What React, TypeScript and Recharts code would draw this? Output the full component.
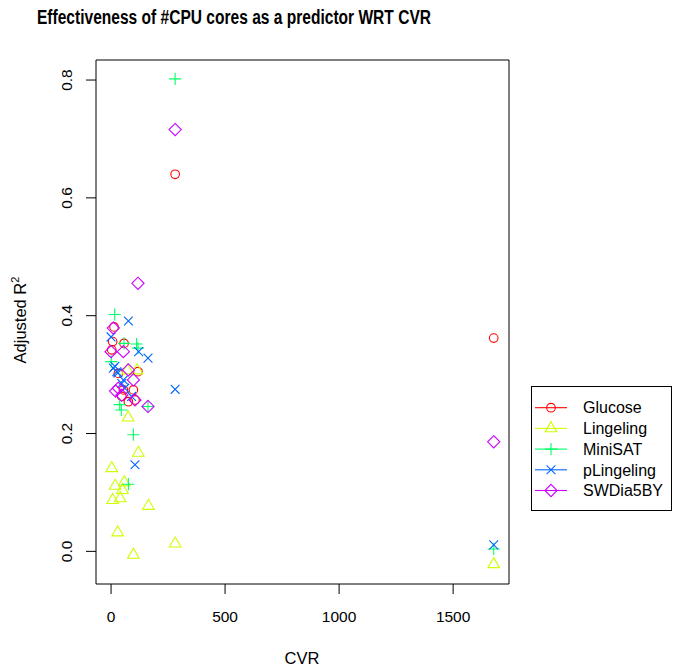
import React from 'react';
import { ScatterChart, Scatter, XAxis, YAxis, ReferenceArea, Legend } from 'recharts';

// ---- data ----
const glucoseCvr = [3, 7, 13, 32, 47, 54, 57, 76, 98, 105, 118, 281, 1678];
const glucoseR2 = [0.342, 0.356, 0.381, 0.302, 0.263, 0.274, 0.353, 0.254, 0.274, 0.257, 0.305, 0.640, 0.362];

const lingelingCvr = [3, 7, 18, 29, 40, 50, 58, 72, 75, 98, 114, 120, 164, 281, 1678];
const lingelingR2 = [0.141, 0.087, 0.111, 0.032, 0.090, 0.104, 0.117, 0.307, 0.227, -0.006, 0.307, 0.167, 0.077, 0.013, -0.022];

const minisatCvr = [1, 16, 38, 45, 57, 76, 98, 112, 118, 162, 281, 1678];
const minisatR2 = [0.322, 0.402, 0.249, 0.240, 0.353, 0.114, 0.198, 0.352, 0.345, 0.246, 0.802, 0.004];

const plingelingCvr = [0, 10, 17, 25, 30, 47, 54, 60, 76, 90, 105, 121, 162, 281, 1678];
const plingelingR2 = [0.364, 0.311, 0.314, 0.305, 0.303, 0.285, 0.291, 0.277, 0.391, 0.263, 0.147, 0.339, 0.328, 0.275, 0.011];

const swdiaCvr = [0, 10, 20, 32, 47, 54, 76, 98, 105, 118, 162, 281, 1678];
const swdiaR2 = [0.339, 0.379, 0.272, 0.277, 0.265, 0.339, 0.308, 0.291, 0.257, 0.455, 0.246, 0.716, 0.186];

const seriesNames = ['Glucose', 'Lingeling', 'MiniSAT', 'pLingeling', 'SWDia5BY'];
const seriesColors = ['#FF0000', '#CCFF00', '#00FF66', '#0066FF', '#CC00FF'];

const xTicks = [0, 500, 1000, 1500];
const yTicks = [0.0, 0.2, 0.4, 0.6, 0.8];
const xDomain: [number, number] = [-66, 1745];
const yDomain: [number, number] = [-0.0554, 0.834];

const toPoints = (xs: number[], ys: number[]) => xs.map((x, i) => ({ x, y: ys[i] }));

const FONT = '"Liberation Sans", Arial, Helvetica, sans-serif';

// ---- R-like point symbols ----
type ShapeKind = 'circle' | 'triangle' | 'plus' | 'cross' | 'diamond';
const shapeKinds: ShapeKind[] = ['circle', 'triangle', 'plus', 'cross', 'diamond'];

function Symbol({ kind, cx, cy, color }: { kind: ShapeKind; cx: number; cy: number; color: string }) {
  const common = { fill: 'none', stroke: color, strokeWidth: 1.1 };
  if (cx == null || cy == null || isNaN(cx) || isNaN(cy)) return null;
  switch (kind) {
    case 'circle':
      return <circle cx={cx} cy={cy} r={4.3} {...common} />;
    case 'triangle': {
      const t0 = 6.7, xc = 5.8, yc = 3.35;
      return <polygon points={`${cx},${cy - t0} ${cx + xc},${cy + yc} ${cx - xc},${cy + yc}`} {...common} />;
    }
    case 'plus': {
      const a = 6.1;
      return <path d={`M${cx - a},${cy}H${cx + a}M${cx},${cy - a}V${cy + a}`} {...common} />;
    }
    case 'cross': {
      const a = 4.4;
      return <path d={`M${cx - a},${cy - a}L${cx + a},${cy + a}M${cx - a},${cy + a}L${cx + a},${cy - a}`} {...common} />;
    }
    case 'diamond': {
      const a = 6.1;
      return <polygon points={`${cx},${cy - a} ${cx + a},${cy} ${cx},${cy + a} ${cx - a},${cy}`} {...common} />;
    }
  }
  return null;
}

const seriesData = [
  toPoints(glucoseCvr, glucoseR2),
  toPoints(lingelingCvr, lingelingR2),
  toPoints(minisatCvr, minisatR2),
  toPoints(plingelingCvr, plingelingR2),
  toPoints(swdiaCvr, swdiaR2),
];

function LegendBox() {
  const rowY0 = 21.7;
  const rowStep = 20.7;
  return (
    <svg width={142} height={126} style={{ display: 'block' }}>
      <rect x={0.5} y={0.5} width={140} height={124} fill="#fff" stroke="#000" strokeWidth={1} />
      {seriesNames.map((name, i) => {
        const y = rowY0 + i * rowStep;
        return (
          <g key={name}>
            <line x1={4} x2={36} y1={y} y2={y} stroke={seriesColors[i]} strokeWidth={1.1} />
            <Symbol kind={shapeKinds[i]} cx={20} cy={y} color={seriesColors[i]} />
            <text x={52} y={y + 5.7} fontSize={16} fontFamily={FONT} fill="#000">{name}</text>
          </g>
        );
      })}
    </svg>
  );
}

const XTick = (props: any) => {
  const { x, payload } = props;
  return (
    <text x={x} y={622} textAnchor="middle" fontSize={15.5} fontFamily={FONT} fill="#000">
      {payload.value}
    </text>
  );
};

const YTick = (props: any) => {
  const { y, payload } = props;
  const bx = 72;
  return (
    <text x={bx} y={y} transform={`rotate(-90 ${bx} ${y})`} textAnchor="middle" fontSize={15.5} fontFamily={FONT} fill="#000">
      {Number(payload.value).toFixed(1)}
    </text>
  );
};

export default function App() {
  return (
    <div style={{ position: 'absolute', left: 0, top: 0, width: 675, height: 666, background: '#fff' }}>
      <ScatterChart width={675} height={666} margin={{ top: 60, right: 166, bottom: 0, left: 0 }}>
        <XAxis
          type="number"
          dataKey="x"
          domain={xDomain}
          ticks={xTicks}
          allowDataOverflow
          axisLine={false}
          tickLine={{ stroke: '#000', strokeWidth: 1 }}
          tickSize={10}
          height={82}
          tick={<XTick />}
          interval={0}
        />
        <YAxis
          type="number"
          dataKey="y"
          domain={yDomain}
          ticks={yTicks}
          allowDataOverflow
          axisLine={false}
          tickLine={{ stroke: '#000', strokeWidth: 1 }}
          tickSize={10}
          width={96}
          tick={<YTick />}
          interval={0}
        />
        <ReferenceArea
          x1={xDomain[0]}
          x2={xDomain[1]}
          y1={yDomain[0]}
          y2={yDomain[1]}
          fill="none"
          fillOpacity={0}
          stroke="#000"
          strokeWidth={1}
          ifOverflow="visible"
        />
        {seriesData.map((d, i) => (
          <Scatter
            key={seriesNames[i]}
            name={seriesNames[i]}
            data={d}
            isAnimationActive={false}
            shape={(p: any) => <Symbol kind={shapeKinds[i]} cx={p.cx} cy={p.cy} color={seriesColors[i]} />}
          />
        ))}
        <Legend
          layout="horizontal"
          verticalAlign="middle"
          align="center"
          content={() => <LegendBox />}
          wrapperStyle={{ position: 'absolute', left: 531, top: 386, width: 142, height: 126 }}
        />
      </ScatterChart>
      <svg width={675} height={666} style={{ position: 'absolute', left: 0, top: 0, pointerEvents: 'none' }}>
        <text x={37} y={24} fontSize={19.5} fontWeight="bold" fontFamily={FONT} textLength={394} lengthAdjust="spacingAndGlyphs" fill="#000">
          Effectiveness of #CPU cores as a predictor WRT CVR
        </text>
        <text x={302} y={664} textAnchor="middle" fontSize={16.5} fontFamily={FONT} fill="#000">CVR</text>
        <text x={26} y={320} transform="rotate(-90 26 320)" textAnchor="middle" fontSize={16.5} fontFamily={FONT} fill="#000">
          Adjusted R<tspan fontSize={11} dy={-7}>2</tspan>
        </text>
      </svg>
    </div>
  );
}
